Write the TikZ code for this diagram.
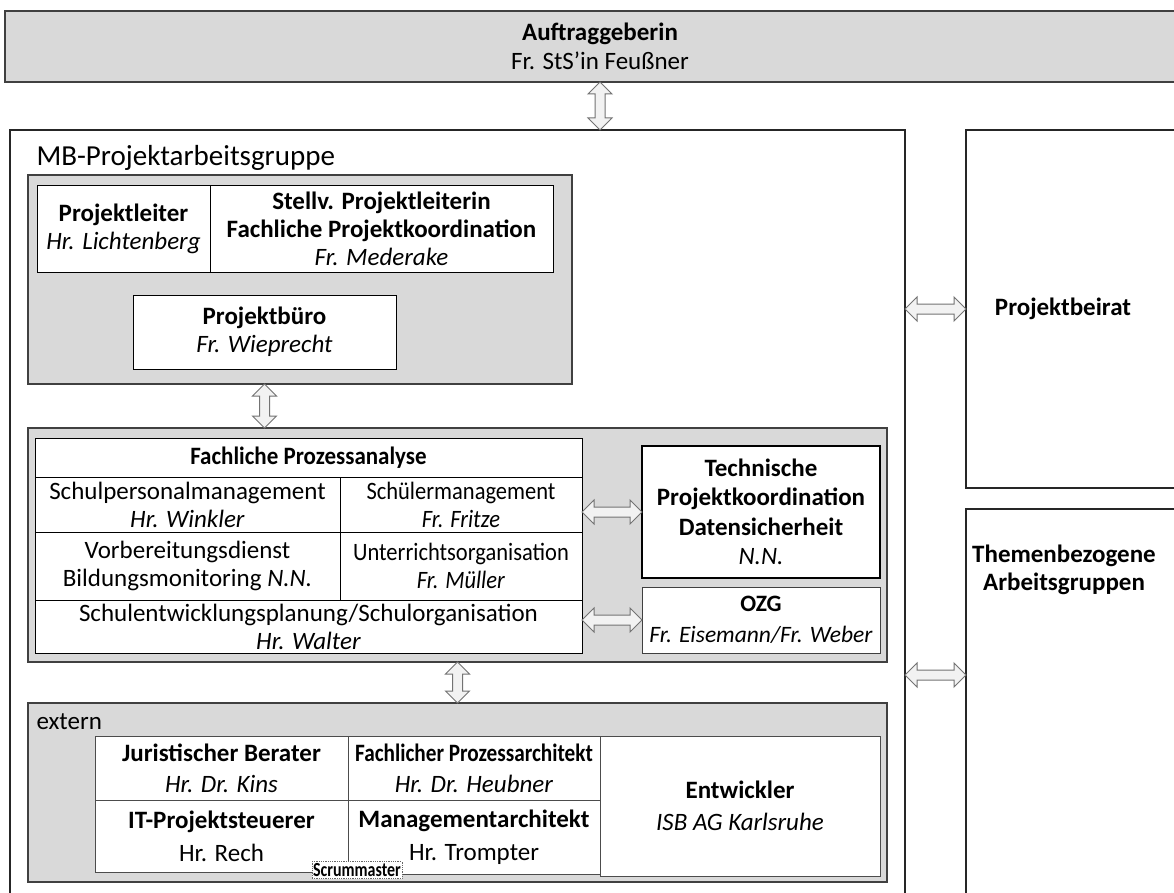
\documentclass[tikz,border=0pt]{standalone}
\usepackage{fontspec}
\setmainfont{Carlito}
\usetikzlibrary{positioning, calc}
\newcommand{\narrowtxt}[2][0.9]{\scalebox{#1}[1]{#2}}

\begin{document}
\begin{tikzpicture}[x=1pt, y=-1pt,
	font=\fontsize{25}{28}\selectfont,
	box/.style={draw=black!75, line width=1.5pt, inner sep=0pt, outer sep=0pt, anchor=north west, align=center},
	graybox/.style={box, fill=black!15},
	cell/.style={draw=black, line width=0.8pt, fill=white, inner sep=0pt, outer sep=0pt, anchor=north west, align=center},
	vblock/.style={draw=black!55, fill=black!5, line width=1pt, to path={let \p1=(\tikztostart), \p2=(\tikztotarget) in
		(\p1) -- (\x1+12pt,\y1-12pt) -- (\x1+5pt,\y1-12pt) -- (\x1+5pt,\y2+12pt) -- (\x1+12pt,\y2+12pt) -- (\x1,\y2)
		-- (\x1-12pt,\y2+12pt) -- (\x1-5pt,\y2+12pt) -- (\x1-5pt,\y1-12pt) -- (\x1-12pt,\y1-12pt) -- cycle}},
	hblock/.style={draw=black!55, fill=black!5, line width=1pt, to path={let \p1=(\tikztostart), \p2=(\tikztotarget) in
		(\p1) -- (\x1+12pt,\y1+12pt) -- (\x1+12pt,\y1+5pt) -- (\x2-12pt,\y1+5pt) -- (\x2-12pt,\y1+12pt) -- (\x2,\y1)
		-- (\x2-12pt,\y1-12pt) -- (\x2-12pt,\y1-5pt) -- (\x1+12pt,\y1-5pt) -- (\x1+12pt,\y1-12pt) -- cycle}}]
	\useasboundingbox[fill=white] (0,0) rectangle (1174,893);

	% Auftraggeberin and outer frames
	\node[graybox, minimum width=1190pt, minimum height=71pt, font=\fontsize{25}{29}\selectfont] (auftrag) at (5,11) {\textbf{Auftraggeberin}\\Fr. StS’in Feußner};
	\node[box, draw=black!85, minimum width=895pt, minimum height=800pt] (mb) at (10,130) {};
	\node[anchor=west, font=\fontsize{29}{32}\selectfont] (mbtitle) at (33,158) {MB-Projektarbeitsgruppe};
	\node[box, draw=black!85, minimum width=230pt, minimum height=358pt] (beirat) at (966,130) {};
	\node[font=\fontsize{25}{28}\selectfont\bfseries] (beirattxt) at (1063,309) {Projektbeirat};
	\node[box, draw=black!85, minimum width=230pt, minimum height=420pt] (themen) at (966,509) {};
	\node[align=center, font=\fontsize{25}{28}\selectfont\bfseries] (thementxt) at (1064,570) {Themenbezogene\\Arbeitsgruppen};
	\coordinate (tg) at (966,675);

	% Projektleitung
	\node[graybox, minimum width=544pt, minimum height=209pt] (leit) at (28,175) {};
	\node[cell, minimum width=173pt, minimum height=87pt] (pl) at (37,185) {\textbf{Projektleiter}\\\textit{Hr. Lichtenberg}};
	\node[cell, minimum width=343pt, minimum height=87pt, right=0pt of pl] (stv) {\textbf{Stellv. Projektleiterin}\\\textbf{Fachliche Projektkoordination}\\\textit{Fr. Mederake}};
	\node[cell, minimum width=263pt, minimum height=74pt] (buero) at (133,295) {\textbf{Projektbüro}\\\textit{Fr. Wieprecht}};

	% Fachliche Prozessanalyse
	\node[graybox, minimum width=859pt, minimum height=234pt] (fach) at (28,428) {};
	\node[cell, minimum width=547pt, minimum height=39pt] (fpa) at (35,438) {\narrowtxt[0.92]{\textbf{Fachliche Prozessanalyse}}};
	\node[cell, minimum width=305pt, minimum height=55pt] (spm) at (fpa.south west) {Schulpersonalmanagement\\\textit{Hr. Winkler}};
	\node[cell, minimum width=242pt, minimum height=55pt, right=0pt of spm] (sm) {\narrowtxt{Schülermanagement}\\\narrowtxt{\textit{Fr. Fritze}}};
	\node[cell, minimum width=305pt, minimum height=68pt] (vd) at (spm.south west) {Vorbereitungsdienst\\Bildungsmonitoring \textit{N.N.}};
	\node[cell, minimum width=242pt, minimum height=68pt, right=0pt of vd] (uo) {\narrowtxt{Unterrichtsorganisation}\\\narrowtxt{\textit{Fr. Müller}}};
	\node[cell, minimum width=547pt, minimum height=53pt] (sep) at (vd.south west) {Schulentwicklungsplanung/Schulorganisation\\\textit{Hr. Walter}};
	\node[cell, line width=2pt, minimum width=238pt, minimum height=132pt, font=\fontsize{25}{29.5}\selectfont] (tech) at (642,446) {\textbf{Technische}\\\textbf{Projektkoordination}\\\textbf{Datensicherheit}\\\textit{N.N.}};
	\node[cell, draw=black!75, minimum width=238pt, minimum height=66pt, font=\fontsize{23.5}{31}\selectfont] (ozg) at (642,587) {\textbf{OZG}\\\textit{Fr. Eisemann/Fr. Weber}};

	% extern
	\node[graybox, minimum width=859pt, minimum height=179pt] (ext) at (28,703) {};
	\node[anchor=west] (exttitle) at (33,722) {extern};
	\node[cell, draw=black!70, minimum width=253pt, minimum height=64pt, font=\fontsize{25}{31}\selectfont] (jur) at (95,736) {\textbf{Juristischer Berater}\\\textit{Hr. Dr. Kins}};
	\node[cell, draw=black!70, minimum width=252pt, minimum height=64pt, font=\fontsize{25}{31}\selectfont, right=0pt of jur] (fpar) {\narrowtxt[0.85]{\textbf{Fachlicher Prozessarchitekt}}\\\textit{Hr. Dr. Heubner}};
	\node[cell, draw=black!70, minimum width=253pt, minimum height=72pt, font=\fontsize{25}{33}\selectfont] (its) at (jur.south west) {\textbf{IT-Projektsteuerer}\\Hr. Rech};
	\node[cell, draw=black!70, minimum width=252pt, minimum height=74pt, font=\fontsize{25}{33}\selectfont] (mgm) at (fpar.south west) {\textbf{Managementarchitekt}\\Hr. Trompter};
	\node[cell, draw=black!70, minimum width=280pt, minimum height=140pt, font=\fontsize{25}{32}\selectfont] (ent) at (fpar.north east) {\textbf{Entwickler}\\\textit{ISB AG Karlsruhe}};
	\node[draw=black!60, densely dotted, fill=white, line width=0.8pt, inner sep=1pt, minimum width=90pt, minimum height=17pt, font=\fontsize{20}{22}\selectfont\bfseries] (scrum) at (357,870) {\narrowtxt[0.8]{Scrummaster}};

	% Verbindungen
	\path (auftrag.south) edge[vblock] (auftrag.south |- mb.north)
		(leit.south -| buero) edge[vblock] (fach.north -| buero)
		(fach.south) edge[vblock] (ext.north)
		(tech.west -| fpa.east) edge[hblock] (tech.west)
		(ozg.west -| sep.east) edge[hblock] (ozg.west)
		(mb.east |- beirattxt) edge[hblock] (beirattxt -| beirat.west)
		(tg -| mb.east) edge[hblock] (tg);
\end{tikzpicture}
\end{document}
